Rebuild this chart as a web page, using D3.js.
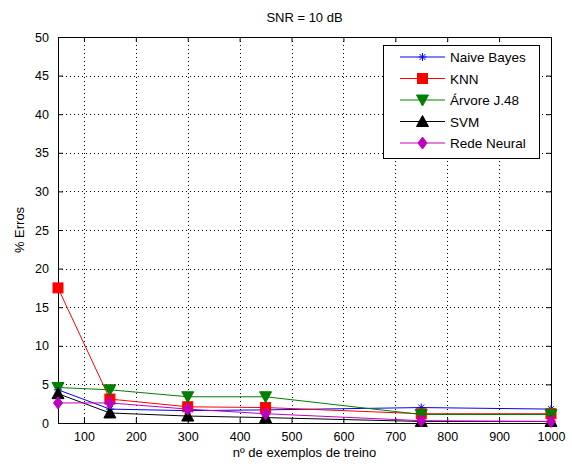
<!DOCTYPE html>
<html>
<head>
<meta charset="utf-8">
<script src="https://cdn.jsdelivr.net/npm/d3@7"></script>
<style>
  body { margin: 0; background: #fff; }
  svg text { font-family: "Liberation Sans", Arial, sans-serif; font-size: 13px; fill: #000; }
</style>
</head>
<body>
<div id="chart"></div>
<script>
const samples = [50, 150, 300, 450, 750, 1000];
const naiveBayes = [4.3, 1.8, 1.6, 1.7, 2.0, 1.8];
const knn = [17.5, 3.1, 2.1, 2.0, 1.2, 1.2];
const arvore = [4.6, 4.3, 3.4, 3.4, 1.1, 1.1];
const svmErr = [3.8, 1.3, 0.9, 0.7, 0.2, 0.2];
const redeNeural = [2.6, 2.6, 1.8, 1.2, 0.3, 0.2];
const xTicks = [100, 200, 300, 400, 500, 600, 700, 800, 900, 1000];
const yTicks = [0, 5, 10, 15, 20, 25, 30, 35, 40, 45, 50];

const series = [
  { name: 'Naive Bayes', values: naiveBayes, color: '#0000ff', marker: 'star' },
  { name: 'KNN', values: knn, color: '#ff0000', marker: 'square' },
  { name: 'Árvore J.48', values: arvore, color: '#008000', marker: 'down' },
  { name: 'SVM', values: svmErr, color: '#000000', marker: 'up' },
  { name: 'Rede Neural', values: redeNeural, color: '#bf00bf', marker: 'diamond' },
];

const W = 572, H = 464,
  margin = { top: 37, right: 21, bottom: 41, left: 58 },
  width = W - margin.left - margin.right,
  height = H - margin.top - margin.bottom;

const svg = d3.select('#chart').append('svg')
  .attr('width', W).attr('height', H);

const g = svg.append('g')
  .attr('transform', `translate(${margin.left},${margin.top})`);

const x = d3.scaleLinear().domain([50, 1000]).range([0, width]);
const y = d3.scaleLinear().domain([0, 50]).range([height, 0]);

// dotted grid
g.append('g').selectAll('line').data(xTicks.slice(0, -1)).join('line')
  .attr('x1', d => Math.round(x(d)) + 0.5).attr('x2', d => Math.round(x(d)) + 0.5)
  .attr('y1', 0).attr('y2', height)
  .attr('stroke', '#000').attr('stroke-width', 1).attr('stroke-dasharray', '1,3');
g.append('g').selectAll('line').data(yTicks.slice(1, -1)).join('line')
  .attr('y1', d => Math.round(y(d)) + 0.5).attr('y2', d => Math.round(y(d)) + 0.5)
  .attr('x1', 0).attr('x2', width)
  .attr('stroke', '#000').attr('stroke-width', 1).attr('stroke-dasharray', '1,3');

// axes, ticks pointing inward
g.append('g').attr('transform', `translate(0,${height})`)
  .call(d3.axisBottom(x).tickValues(xTicks).tickFormat(d3.format('d'))
    .tickSizeInner(-5).tickSizeOuter(0).tickPadding(9));
g.append('g')
  .call(d3.axisLeft(y).tickValues(yTicks).tickFormat(d3.format('d'))
    .tickSizeInner(-5).tickSizeOuter(0).tickPadding(9));
g.append('g')
  .call(d3.axisTop(x).tickValues(xTicks).tickSizeInner(-5).tickSizeOuter(0).tickFormat(''));
g.append('g').attr('transform', `translate(${width},0)`)
  .call(d3.axisRight(y).tickValues(yTicks).tickSizeInner(-5).tickSizeOuter(0).tickFormat(''));
g.selectAll('.domain').remove();
g.selectAll('.tick text').style('font-size', '12.5px');

g.append('rect')
  .attr('x', 0.5).attr('y', 0.5).attr('width', width).attr('height', height)
  .attr('fill', 'none').attr('stroke', '#000').attr('stroke-width', 1);

function drawMarker(sel, type, color, cx, cy) {
  if (type === 'square') {
    sel.append('rect').attr('x', cx - 5).attr('y', cy - 5).attr('width', 10).attr('height', 10)
      .attr('fill', color).attr('stroke', color);
  } else if (type === 'down') {
    sel.append('path').attr('d', `M${cx - 6},${cy - 5}L${cx + 6},${cy - 5}L${cx},${cy + 6}Z`)
      .attr('fill', color).attr('stroke', color);
  } else if (type === 'up') {
    sel.append('path').attr('d', `M${cx - 6},${cy + 5}L${cx + 6},${cy + 5}L${cx},${cy - 6}Z`)
      .attr('fill', color).attr('stroke', color);
  } else if (type === 'diamond') {
    sel.append('path').attr('d', `M${cx},${cy - 6}L${cx + 4.5},${cy}L${cx},${cy + 6}L${cx - 4.5},${cy}Z`)
      .attr('fill', color).attr('stroke', color);
  } else if (type === 'star') {
    sel.append('path')
      .attr('d', `M${cx - 4},${cy}L${cx + 4},${cy}M${cx},${cy - 4}L${cx},${cy + 4}M${cx - 3},${cy - 3}L${cx + 3},${cy + 3}M${cx - 3},${cy + 3}L${cx + 3},${cy - 3}`)
      .attr('stroke', color).attr('stroke-width', 1).attr('fill', 'none');
  }
}

const line = d3.line().x((d, i) => x(samples[i])).y(d => y(d));

series.forEach(s => {
  const sg = g.append('g');
  sg.append('path').attr('d', line(s.values))
    .attr('fill', 'none').attr('stroke', s.color).attr('stroke-width', 1);
  s.values.forEach((v, i) => drawMarker(sg, s.marker, s.color, x(samples[i]), y(v)));
});

// legend
const lg = svg.append('g').attr('transform', 'translate(383,45)');
lg.append('rect').attr('x', 0.5).attr('y', 0.5).attr('width', 156).attr('height', 113)
  .attr('fill', '#fff').attr('stroke', '#000');
series.forEach((s, i) => {
  const ly = 12 + i * 21.5;
  lg.append('line').attr('x1', 17).attr('x2', 62).attr('y1', ly).attr('y2', ly)
    .attr('stroke', s.color).attr('stroke-width', 1);
  drawMarker(lg, s.marker, s.color, 39.5, ly);
  lg.append('text').attr('x', 67).attr('y', ly + 5).style('font-size', '13.5px').text(s.name);
});

svg.append('text').attr('x', margin.left + width / 2).attr('y', 22)
  .attr('text-anchor', 'middle').text('SNR = 10 dB');
svg.append('text').attr('x', margin.left + width / 2).attr('y', 457)
  .attr('text-anchor', 'middle').text('nº de exemplos de treino');
svg.append('text').attr('transform', `translate(24,${margin.top + height / 2}) rotate(-90)`)
  .attr('text-anchor', 'middle').text('% Erros');
</script>
</body>
</html>
